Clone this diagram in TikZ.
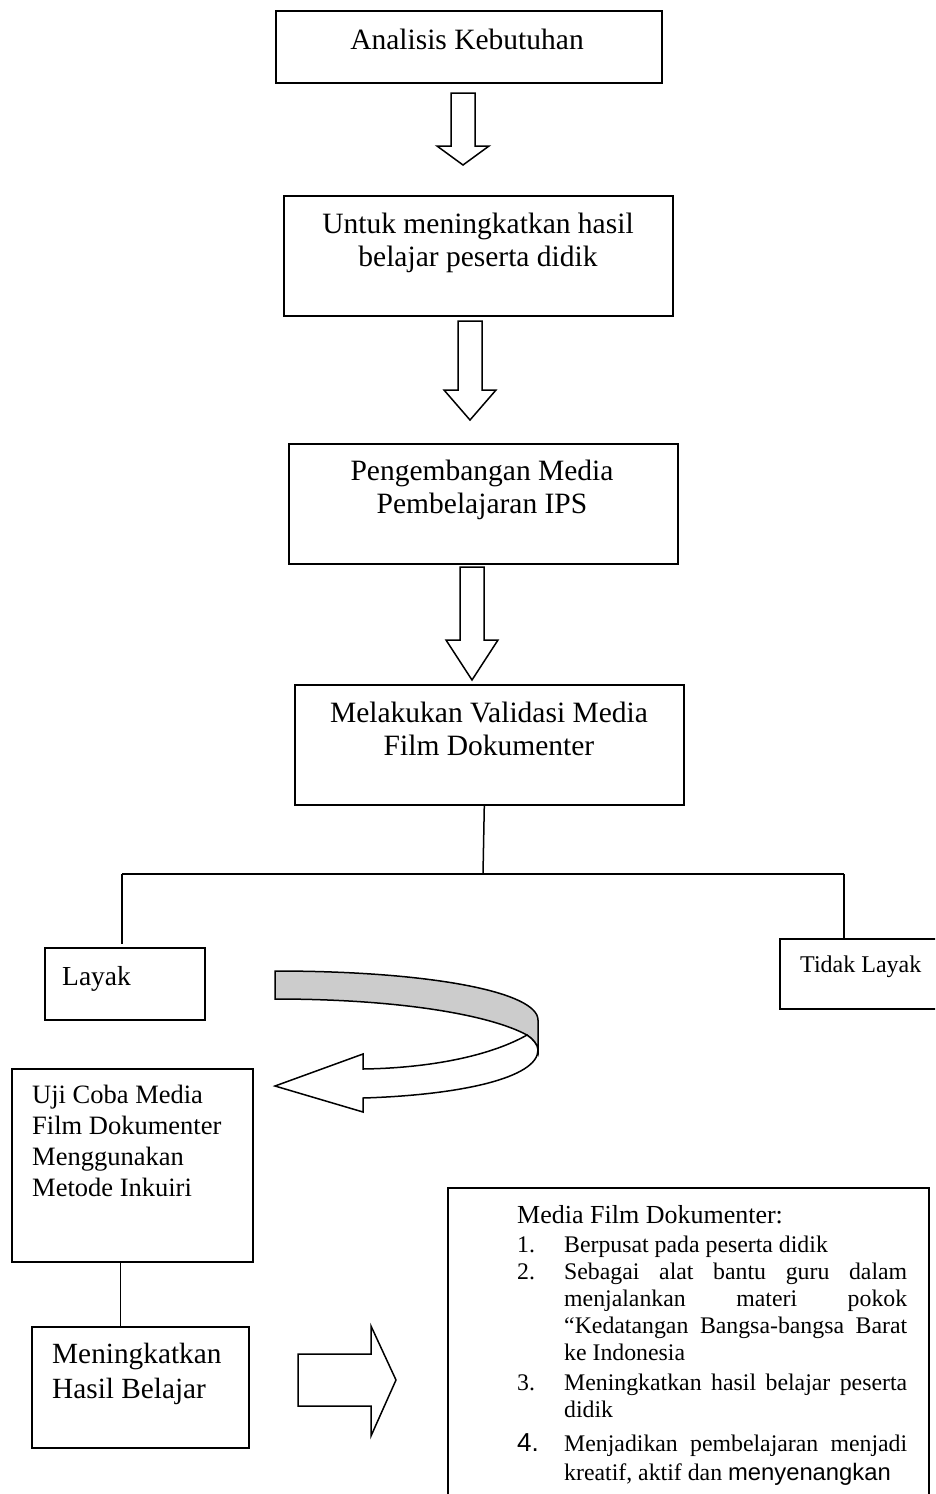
\documentclass[tikz,border=0pt]{standalone}
\usepackage{fontspec}
\setmainfont{Liberation Serif}
\newfontfamily\arialfont{Liberation Sans}

\newcommand{\mfditem}[2]{\par\hangindent=47pt\hangafter=1\noindent\makebox[47pt][l]{#1}#2}

\begin{document}
\begin{tikzpicture}[x=1pt, y=-1pt,
      box/.style={draw, line width=1.6pt, anchor=north west, inner sep=0pt},
      boxtext/.style={align=center, inner sep=0pt, anchor=north, font=\fontsize{29.5}{33}\selectfont},
      hollow/.style={draw, line width=1.5pt, fill=white, line join=miter},
      link/.style={line width=1.5pt}
    ]
    \useasboundingbox (0,0) rectangle (935,1494);
    \clip (0,0) rectangle (935,1494);

    % boxes
    \node[box, minimum width=386pt, minimum height=72pt] (anal) at (275,10) {};
    \node[box, minimum width=389pt, minimum height=120pt] (untuk) at (283,195) {};
    \node[box, minimum width=389pt, minimum height=120pt] (pengem) at (288,443) {};
    \node[box, minimum width=389pt, minimum height=120pt] (valid) at (294,684) {};
    \node[box, minimum width=160pt, minimum height=72pt] (layak) at (44,947) {};
    \node[box, minimum width=180pt, minimum height=70pt] (tidak) at (779,938) {};
    \node[box, minimum width=241pt, minimum height=193pt] (uji) at (11,1068) {};
    \node[box, minimum width=217pt, minimum height=121pt] (hasil) at (31,1326) {};
    \node[box, minimum width=481pt, minimum height=330pt] (mfd) at (447,1187) {};

    % texts
    \node[boxtext, anchor=base] (analtxt) at (467,49) {Analisis Kebutuhan};
    \node[boxtext] (untuktxt) at (478,213) {Untuk meningkatkan hasil\\belajar peserta didik};
    \node[boxtext] (pengemtxt) at (482,460) {Pengembangan Media\\Pembelajaran IPS};
    \node[boxtext] (validtxt) at (489,702) {Melakukan Validasi Media\\Film Dokumenter};
    \node[boxtext, anchor=base west, font=\fontsize{27.5}{31}\selectfont] (layaktxt) at (62,985) {Layak};
    \node[boxtext, anchor=base west, font=\fontsize{24}{28}\selectfont] (tidaktxt) at (800,972) {Tidak Layak};
    \node[boxtext, anchor=north west, align=left, font=\fontsize{26.5}{31}\selectfont] (ujitxt) at (32,1085)
      {Uji Coba Media\\Film Dokumenter\\Menggunakan\\Metode Inkuiri};
    \node[boxtext, anchor=north west, align=left, font=\fontsize{29.3}{35}\selectfont] (hasiltxt) at (52,1343)
      {Meningkatkan\\Hasil Belajar};
    \node[anchor=north west, inner sep=0pt, text width=390pt, align=justify,
          font=\fontsize{23.8}{27}\selectfont] (mfdtxt) at (517,1205) {%
      \setlength\parindent{0pt}\tolerance=10000\hbadness=10000\hyphenpenalty=10000
      {\fontsize{26}{29}\selectfont Media Film Dokumenter:\par}
      \vspace{2pt}
      \mfditem{1.}{Berpusat pada peserta didik}
      \mfditem{2.}{Sebagai alat bantu guru dalam\linebreak menjalankan materi pokok\linebreak “Kedatangan Bangsa-bangsa Barat\linebreak ke Indonesia}
      \par\vspace{3pt}
      \mfditem{3.}{Meningkatkan hasil belajar peserta\linebreak didik}
      \par\vspace{5pt}
      {\fontsize{23.8}{29}\selectfont\mfditem{{\arialfont\fontsize{26}{29}\selectfont 4.}}{Menjadikan pembelajaran menjadi\linebreak kreatif, aktif dan {\arialfont menyenangkan}}\par}
    };

    % hollow arrows
    \foreach \xc/\ya/\yb/\yc in {463/93/146/165, 470/321/390/420, 472/567/640/680} {
      \draw[hollow] (\xc-12,\ya) -- (\xc+12,\ya) -- (\xc+12,\yb) -- (\xc+26,\yb)
        -- (\xc,\yc) -- (\xc-26,\yb) -- (\xc-12,\yb) -- cycle;
    }
    \draw[hollow] (298,1354) -- (371,1354) -- (371,1326) -- (396,1380)
      -- (371,1436) -- (371,1406) -- (298,1406) -- cycle;

    % tree
    \coordinate (split) at (483,874);
    \coordinate (lend) at (122,874);
    \coordinate (rend) at (844,874);
    \draw[link] ([xshift=-5pt]valid.south) -- (split);
    \draw[link] (lend) -- (rend);
    \draw[link, shorten >=3pt] (lend) -- (lend |- layak.north);
    \draw[link] (rend) -- (rend |- tidak.north);
    \draw[link] ([xshift=-12pt]uji.south) -- ([xshift=-12pt]uji.south |- hasil.north);

    % curved arrow
    \draw[link, fill=gray!40] (275,971) .. controls (430,971) and (538,992) .. (538,1020)
      -- (538,1050) .. controls (538,1045) and (533,1039) .. (527,1035)
      .. controls (490,1015) and (400,999) .. (275,999) -- cycle;
    \draw[link, fill=white] (527,1035) .. controls (490,1056) and (430,1068) .. (363,1069)
      -- (363,1054) -- (275,1086) -- (363,1112) -- (363,1098)
      .. controls (460,1095) and (538,1078) .. (538,1050)
      .. controls (538,1045) and (533,1039) .. (527,1035) -- cycle;
  \end{tikzpicture}
\end{document}
